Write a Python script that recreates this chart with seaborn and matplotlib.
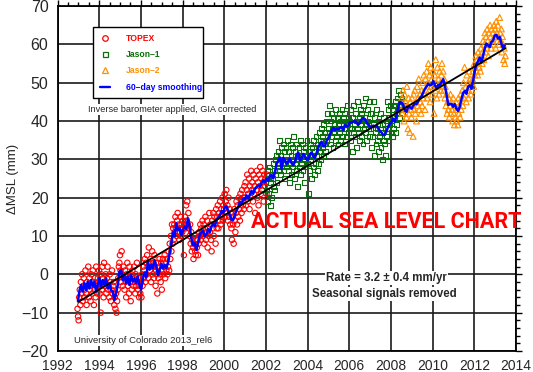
import numpy as np
import pandas as pd
import matplotlib
matplotlib.use("Agg")
import matplotlib.pyplot as plt
import seaborn as sns
from matplotlib.lines import Line2D
from matplotlib.ticker import MultipleLocator

# ---------------- data ----------------
CYCLE_YR = 9.9156 / 365.25          # altimeter repeat cycle (years)

topex_start = 1992.96
topex_mm = [
    -9, -11, -12, -6, -4, -8, -2, -5, 0, -7, -3, -1, -6, -4, 1, -5, -8, -2, -3, 2,
    -6, -1, -4, -7, 0, -3, -5, 1, -2, -8, -4, -1, -6, 2, -3, -5, -1,
    -2, 1, -5, -3, -10, 0, -4, 2, -1, -6, 3, -3, -2, 0, -5, -1, 2, -4, -3, -6,
    0, -2, -7, -4, 1, -5, -3, -2, -8, -6, -9, -5, -10, -7, -4, -1, 2,
    3, 5, 1, -2, 6, 0, -3, 2, -1, -4, 1, -2, -6, 0, 3, -3, -1, -5, 2, -2,
    -7, 0, -4, 1, -2, -3, 2, -1, -5, 0, -3, 3, -2, -4, -1, -6, -3,
    -5, -2, -6, 0, -3, 2, -1, 1, 4, -2, 3, 0, 5, 2, -1, 7, 3, 1, 4, -2,
    2, 6, 0, 3, -1, 5, 2, -3, 1, 0, -5, 3, -1, 2, 4, 0, -2,
    3, -4, 1, 4, 0, 2, 5, -1, 3, 1, 4, 0, 2, 6, 1, 8, 4, 10, 6, 13,
    8, 12, 9, 13, 11, 15, 12, 10, 14, 16, 11, 13, 9, 12, 15, 10, 13,
    11, 14, 12, 5, 13, 15, 12, 18, 14, 19, 13, 16, 12, 10, 13, 8, 11, 6, 9, 7,
    4, 8, 10, 6, 5, 9, 7, 9, 5, 8, 11, 10, 13, 9, 12, 11, 14,
    10, 13, 8, 12, 15, 9, 11, 14, 7, 12, 10, 16, 11, 13, 9, 6, 14, 12, 16, 10,
    15, 13, 8, 17, 12, 15, 18, 12, 16, 14, 19, 13, 17, 15, 20, 14, 18,
    17, 21, 15, 19, 22, 16, 18, 14, 20, 15, 17, 13, 16, 12, 9, 15, 13, 8, 17, 14,
    11, 16, 19, 13, 18, 15, 20, 17, 14, 21, 19, 16, 22, 18, 20, 17, 23,
    20, 24, 18, 22, 26, 19, 21, 25, 17, 23, 20, 27, 22, 24, 19, 26, 21, 23, 16, 25,
    22, 27, 20, 24, 18, 26, 23, 28, 21, 25, 22, 27, 24, 19, 26, 23, 25,
    24, 21, 26,
]

jason1_start = 2002.04
jason1_mm = [
    22, 27, 19, 25, 21, 28, 18, 24, 26, 20, 25, 29, 23, 27, 22, 30, 26, 31, 24, 28,
    32, 29, 35, 27, 31, 26, 33, 28, 30, 34, 27, 32, 25, 29, 33, 28,
    30, 35, 27, 32, 24, 29, 34, 31, 26, 33, 28, 36, 30, 25, 32, 29, 27, 34, 31, 23,
    30, 33, 28, 35, 26, 31, 29, 34, 27, 32, 30, 24, 33, 28, 31, 35, 29,
    29, 21, 32, 27, 34, 30, 25, 33, 31, 28, 35, 26, 32, 29, 36, 31, 27, 34, 33, 29,
    37, 32, 35, 30, 38, 33, 36, 31, 39, 34, 37, 32, 40, 35, 42, 36, 38,
    37, 44, 34, 40, 36, 42, 38, 33, 41, 37, 39, 35, 43, 38, 36, 41, 34, 39, 42, 37,
    40, 35, 38, 43, 36, 41, 39, 34, 42, 38, 40, 36, 44, 39, 37, 41, 38,
    40, 35, 43, 38, 32, 41, 37, 44, 39, 36, 42, 33, 40, 38, 45, 37, 41, 35, 43, 39,
    36, 42, 40, 34, 44, 38, 41, 37, 46, 39, 35, 43, 40, 38, 45, 36, 42,
    38, 33, 42, 36, 45, 39, 31, 41, 37, 34, 43, 38, 35, 40, 32, 39, 36, 42, 33, 37,
    30, 39, 35, 41, 34, 38, 31, 40, 36, 45, 38, 43, 35, 41, 39, 44, 37,
    40, 36, 43, 38, 44, 41, 37, 45, 42, 39, 46, 43, 48, 44, 41, 47, 45, 43, 46, 42, 44,
]

jason2_start = 2008.52
jason2_mm = [
    46, 42, 48, 44, 40, 47, 43, 45, 41, 49, 44, 38, 46, 42, 37, 45, 43,
    41, 46, 44, 36, 47, 43, 48, 42, 45, 40, 49, 44, 46, 51, 43, 47, 45, 42,
    48, 44, 50, 46, 52, 47, 43, 51, 48, 53, 46, 50, 55, 48, 52, 45, 54, 49,
    51, 47, 53, 49, 42, 52, 48, 56, 50, 46, 54, 49, 51, 47, 53, 50, 48, 52,
    55, 50, 53, 48, 51, 46, 49, 44, 47, 42, 45, 43, 46, 41, 44, 47, 42, 45,
    43, 40, 46, 42, 39, 44, 41, 45, 40, 43, 39, 46, 42, 44, 41, 47, 43, 46,
    48, 44, 50, 46, 54, 47, 49, 45, 52, 48, 50, 46, 53, 49, 51, 47, 50, 48,
    51, 53, 49, 55, 52, 54, 57, 53, 56, 52, 58, 55, 54, 57, 53, 59, 56, 55,
    58, 61, 56, 60, 63, 58, 62, 59, 64, 61, 57, 63, 60, 65, 62, 59, 64, 61,
    63, 60, 65, 62, 64, 59, 66, 63, 61, 65, 62, 60, 67, 63, 61, 64, 58, 62, 60, 56, 59, 55, 57,
]

smooth_year = [
    1992.98, 1993.06, 1993.13, 1993.21, 1993.29, 1993.37, 1993.45, 1993.53, 1993.61, 1993.69,
    1993.77, 1993.85, 1993.93, 1994.01, 1994.09, 1994.17, 1994.25, 1994.33, 1994.41, 1994.49,
    1994.57, 1994.65, 1994.73, 1994.81, 1994.89, 1994.97, 1995.05, 1995.13, 1995.21, 1995.29,
    1995.37, 1995.45, 1995.53, 1995.61, 1995.69, 1995.77, 1995.85, 1995.93, 1996.01, 1996.10,
    1996.18, 1996.26, 1996.34, 1996.42, 1996.50, 1996.58, 1996.66, 1996.74, 1996.82, 1996.90,
    1996.98, 1997.06, 1997.14, 1997.22, 1997.30, 1997.38, 1997.46, 1997.54, 1997.62, 1997.70,
    1997.78, 1997.86, 1997.94, 1998.02, 1998.10, 1998.18, 1998.26, 1998.34, 1998.42, 1998.50,
    1998.58, 1998.66, 1998.74, 1998.82, 1998.90, 1998.98, 1999.06, 1999.15, 1999.23, 1999.31,
    1999.39, 1999.47, 1999.55, 1999.63, 1999.71, 1999.79, 1999.87, 1999.95, 2000.03, 2000.11,
    2000.19, 2000.27, 2000.35, 2000.43, 2000.51, 2000.59, 2000.67, 2000.75, 2000.83, 2000.91,
    2000.99, 2001.07, 2001.15, 2001.23, 2001.31, 2001.39, 2001.47, 2001.55, 2001.63, 2001.71,
    2001.79, 2001.87, 2001.95, 2002.03, 2002.11, 2002.19, 2002.27, 2002.35, 2002.43, 2002.51,
    2002.59, 2002.67, 2002.75, 2002.83, 2002.91, 2002.99, 2003.07, 2003.15, 2003.23, 2003.31,
    2003.39, 2003.47, 2003.55, 2003.63, 2003.71, 2003.79, 2003.87, 2003.95, 2004.03, 2004.11,
    2004.19, 2004.27, 2004.35, 2004.43, 2004.51, 2004.59, 2004.67, 2004.75, 2004.83, 2004.91,
    2004.99, 2005.07, 2005.15, 2005.23, 2005.31, 2005.39, 2005.47, 2005.55, 2005.63, 2005.71,
    2005.79, 2005.87, 2005.95, 2006.03, 2006.11, 2006.19, 2006.27, 2006.35, 2006.43, 2006.51,
    2006.59, 2006.67, 2006.75, 2006.83, 2006.91, 2006.99, 2007.07, 2007.15, 2007.23, 2007.31,
    2007.39, 2007.47, 2007.55, 2007.63, 2007.71, 2007.79, 2007.87, 2007.95, 2008.03, 2008.11,
    2008.19, 2008.27, 2008.35, 2008.43, 2008.51, 2008.59, 2008.67, 2008.75, 2008.83, 2008.91,
    2008.99, 2009.07, 2009.15, 2009.23, 2009.31, 2009.39, 2009.47, 2009.55, 2009.63, 2009.71,
    2009.79, 2009.87, 2009.95, 2010.03, 2010.11, 2010.19, 2010.27, 2010.35, 2010.43, 2010.51,
    2010.59, 2010.67, 2010.75, 2010.83, 2010.91, 2010.98, 2011.06, 2011.14, 2011.22, 2011.30,
    2011.39, 2011.47, 2011.55, 2011.62, 2011.70, 2011.78, 2011.86, 2011.94, 2012.02, 2012.10,
    2012.18, 2012.26, 2012.34, 2012.42, 2012.50, 2012.58, 2012.66, 2012.74, 2012.82, 2012.90,
    2012.98, 2013.06, 2013.14, 2013.22, 2013.30, 2013.38, 2013.46,
]
smooth_mm = [
    -7.0, -4.1, -2.8, -4.5, -2.3, -4.1, -1.9, -3.7, -1.5, -3.2,
    -1.9, -4.5, -2.8, -1.0, -3.2, -1.5, -2.8, -1.0, -3.7, -2.3,
    -4.1, -4.5, -6.7, -5.0, -2.8, 0.7, 1.1, -1.5, -0.2, -2.3,
    -0.6, -2.8, -0.2, -1.9, -1.0, -2.3, -0.6, -2.8, -4.0, -1.0,
    0.5, -0.8, 3.3, 1.2, 2.5, 1.6, 3.7, 2.0, -0.2, 1.0,
    2.8, 1.5, 2.4, 1.6, 3.0, 5.5, 8.0, 11.1, 10.0, 13.3,
    11.5, 12.0, 10.3, 11.5, 12.4, 11.8, 14.6, 12.5, 9.5, 7.6,
    8.2, 6.3, 8.0, 10.2, 11.0, 11.3, 10.0, 10.5, 11.8, 11.0,
    12.5, 13.2, 12.6, 14.1, 14.8, 15.4, 16.5, 16.0, 17.5, 17.8,
    16.5, 15.5, 14.2, 14.2, 15.5, 16.7, 17.5, 18.9, 18.2, 19.7,
    19.5, 20.6, 19.8, 20.8, 21.8, 21.0, 22.2, 22.8, 23.2, 22.8,
    23.8, 24.5, 24.0, 25.0, 24.4, 25.6, 26.0, 25.0, 26.5, 28.8,
    29.6, 30.5, 27.5, 30.4, 29.8, 28.7, 29.5, 30.2, 29.0, 28.5,
    29.3, 30.9, 31.8, 29.7, 30.2, 31.4, 30.8, 30.0, 29.9, 31.3,
    31.8, 30.8, 30.4, 31.6, 33.0, 34.0, 34.6, 33.4, 33.4, 34.8,
    35.5, 36.5, 37.5, 38.2, 37.6, 38.0, 37.8, 38.2, 38.4, 37.6,
    39.0, 38.6, 38.8, 39.7, 39.6, 39.8, 40.0, 39.5, 39.0, 39.5,
    40.4, 40.8, 40.5, 39.6, 39.0, 38.6, 38.4, 38.8, 38.6, 38.8,
    38.0, 37.4, 37.0, 36.3, 36.4, 37.4, 38.6, 39.2, 39.8, 40.6,
    39.8, 41.5, 43.5, 45.0, 44.8, 44.2, 42.8, 42.4, 43.7, 43.6,
    43.2, 44.0, 44.5, 44.4, 45.2, 46.0, 46.5, 47.5, 48.4, 49.0,
    49.7, 49.3, 49.5, 50.4, 49.3, 48.5, 49.4, 49.2, 50.2, 50.9,
    49.3, 46.7, 44.2, 44.4, 44.5, 43.7, 44.4, 43.2, 42.6, 43.7,
    45.8, 47.4, 47.8, 47.1, 48.9, 49.3, 48.4, 50.4, 53.0, 54.8,
    55.6, 56.6, 55.2, 57.1, 58.9, 60.2, 59.7, 59.3, 60.6, 61.0,
    62.3, 62.5, 61.5, 61.9, 60.2, 58.9, 59.7,
]

trend_year = [1993.0, 2013.5]
trend_mm = [-7.2, 59.0]

x_ticks = [1992, 1994, 1996, 1998, 2000, 2002, 2004, 2006, 2008, 2010, 2012, 2014]
y_ticks = [-20, -10, 0, 10, 20, 30, 40, 50, 60, 70]

series_names = ["TOPEX", "Jason\u20131", "Jason\u20132", "60\u2013day smoothing"]

# ---------------- frames ----------------
def mission_frame(start, vals):
    n = len(vals)
    return pd.DataFrame({"year": start + CYCLE_YR * np.arange(n), "mm": vals})

df_t = mission_frame(topex_start, topex_mm)
df_j1 = mission_frame(jason1_start, jason1_mm)
df_j2 = mission_frame(jason2_start, jason2_mm)
df_s = pd.DataFrame({"year": smooth_year, "mm": smooth_mm})
df_tr = pd.DataFrame({"year": trend_year, "mm": trend_mm})

# ---------------- style ----------------
sns.set_style("white")
plt.rcParams["font.family"] = ["Liberation Sans", "DejaVu Sans"]
plt.rcParams.update({
    "axes.grid": True,
    "axes.grid.which": "major",
    "grid.color": "#1a1a1a",
    "grid.linewidth": 1.2,
    "grid.linestyle": "-",
    "grid.alpha": 1.0,
    "axes.axisbelow": True,
})

RED = "#ff0000"
GREEN = "#0a6e0a"
ORANGE = "#ff9000"
BLUE = "#0000ff"

fig = plt.figure(figsize=(5.33, 3.72), dpi=100)
ax = fig.add_axes([0.1079, 0.0565, 0.8602, 0.9274])

sns.scatterplot(data=df_t, x="year", y="mm", ax=ax, marker="o", s=15,
                facecolor="none", edgecolor=RED, color=RED, linewidth=0.8,
                legend=False, zorder=3)
sns.scatterplot(data=df_j1, x="year", y="mm", ax=ax, marker="s", s=12,
                facecolor="none", edgecolor=GREEN, color=GREEN, linewidth=0.8,
                legend=False, zorder=3)
sns.scatterplot(data=df_j2, x="year", y="mm", ax=ax, marker="^", s=18,
                facecolor="none", edgecolor=ORANGE, color=ORANGE, linewidth=0.8,
                legend=False, zorder=3)
sns.lineplot(data=df_s, x="year", y="mm", ax=ax, color=BLUE, lw=1.8,
             sort=False, estimator=None, legend=False, zorder=4)
sns.lineplot(data=df_tr, x="year", y="mm", ax=ax, color="black", lw=1.3,
             sort=False, estimator=None, legend=False, zorder=5)

ax.set_xlim(1992, 2014)
ax.set_ylim(-20, 70)
ax.set_xticks(x_ticks)
ax.set_yticks(y_ticks)
ax.xaxis.set_minor_locator(MultipleLocator(0.5))
ax.yaxis.set_minor_locator(MultipleLocator(2))
ax.tick_params(which="both", direction="out", top=True, right=True,
               color="black", width=1.0)
ax.tick_params(which="major", length=4.5)
ax.tick_params(which="minor", length=3)
ax.tick_params(axis="x", labelsize=10, pad=1.2)
ax.tick_params(axis="y", labelsize=11.5, pad=2)
ax.xaxis.grid(True, which="major", color="#1a1a1a", linewidth=1.2)
ax.yaxis.grid(True, which="major", color="#1a1a1a", linewidth=1.2)
for sp in ax.spines.values():
    sp.set_color("black")
    sp.set_linewidth(1.3)
ax.set_xlabel("")
ax.set_ylabel("\u0394MSL (mm)", fontsize=9.5, labelpad=2)

# legend
handles = [
    Line2D([], [], marker="o", ls="none", mfc="none", mec=RED, ms=4.0, mew=0.9),
    Line2D([], [], marker="s", ls="none", mfc="none", mec=GREEN, ms=3.6, mew=0.9),
    Line2D([], [], marker="^", ls="none", mfc="none", mec=ORANGE, ms=4.2, mew=0.9),
    Line2D([], [], color=BLUE, lw=1.7),
]
leg = ax.legend(handles, series_names, loc="upper left",
                bbox_to_anchor=(0.0774, 0.7275, 0.2406, 0.2125), mode="expand",
                borderaxespad=0, frameon=True, fancybox=False, framealpha=1,
                edgecolor="black", prop={"weight": "bold", "size": 6.2},
                labelcolor=[RED, GREEN, ORANGE, BLUE], handlelength=1.2,
                handletextpad=1.8, labelspacing=0.85, borderpad=0.8)
leg.get_frame().set_linewidth(1.0)
leg.set_zorder(10)

box = dict(facecolor="white", edgecolor="none", pad=0.8)
ax.text(1993.46, 43.1, "Inverse barometer applied, GIA corrected", fontsize=6.6,
        ha="left", va="center", bbox=box, zorder=6)
ax.text(1992.8, -17.2, "University of Colorado 2013_rel6", fontsize=6.8,
        ha="left", va="center", bbox=box, zorder=6)
ax.text(2007.78, -0.9, "Rate = 3.2 \u00b1 0.4 mm/yr", fontsize=8.3, fontweight="bold",
        ha="center", va="center", bbox=box, zorder=6)
ax.text(2007.68, -5.1, "Seasonal signals removed", fontsize=8.3, fontweight="bold",
        ha="center", va="center", bbox=box, zorder=6)
ax.text(2007.78, 13.7, "ACTUAL SEA LEVEL CHART", fontsize=15.5, fontweight="bold",
        family=["Roboto", "DejaVu Sans"], color=RED, ha="center", va="center",
        zorder=7)

fig.savefig("out.png", dpi=100)
